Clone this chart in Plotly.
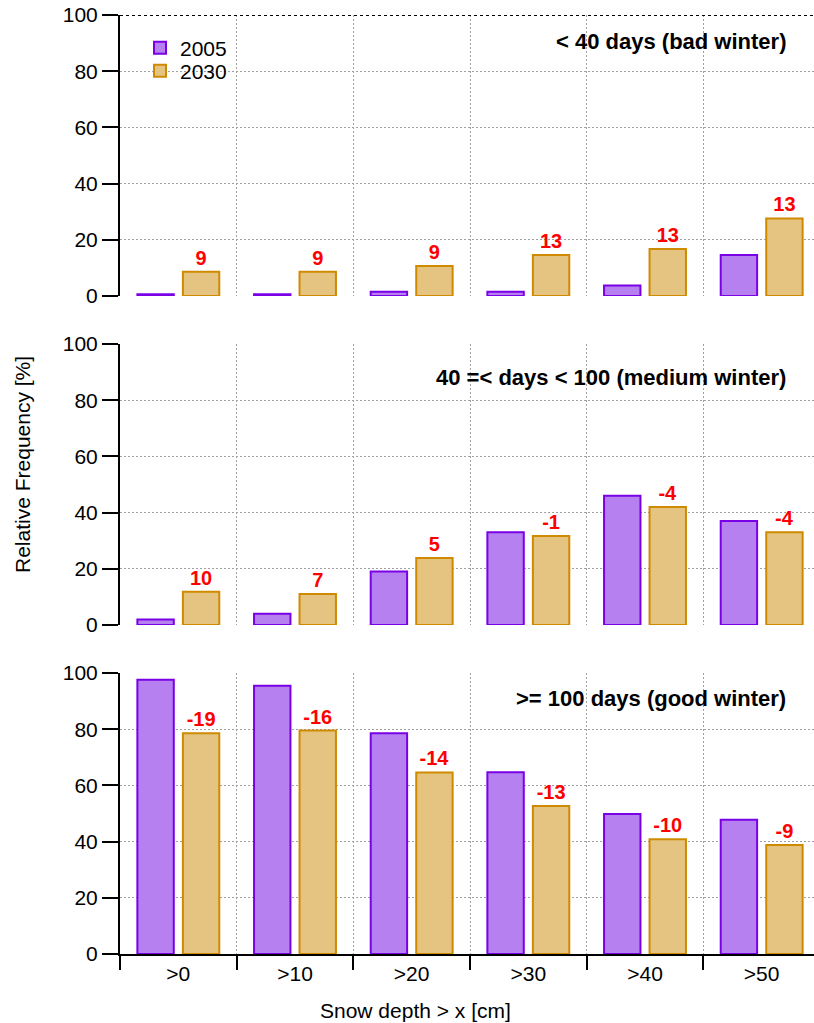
import plotly.graph_objects as go

# Snow depth thresholds and relative frequencies [%] per winter class
depth_labels = [">0", ">10", ">20", ">30", ">40", ">50"]

bad_2005 = [0.6, 0.6, 1.5, 1.5, 3.7, 14.6]
bad_2030 = [8.6, 8.6, 10.7, 14.6, 16.7, 27.6]
bad_diff = ["9", "9", "9", "13", "13", "13"]

medium_2005 = [2.0, 4.0, 19.0, 33.0, 46.0, 37.0]
medium_2030 = [11.8, 11.0, 23.8, 31.7, 42.0, 33.0]
medium_diff = ["10", "7", "5", "-1", "-4", "-4"]

good_2005 = [97.6, 95.5, 78.6, 64.7, 49.8, 47.8]
good_2030 = [78.6, 79.5, 64.6, 52.7, 40.8, 38.8]
good_diff = ["-19", "-16", "-14", "-13", "-10", "-9"]

panel_titles = ["< 40 days (bad winter)", "40 =< days < 100 (medium winter)", ">= 100 days (good winter)"]

PURPLE_FILL, PURPLE_LINE = "#b780f0", "#7a00e6"
ORANGE_FILL, ORANGE_LINE = "#e4c480", "#cf8a00"
FONT = "Liberation Sans, Arial, sans-serif"
GRID = "#a0a0a0"
DOTS = "2px,2px"

W, H = 814, 1023
L, T, B = 120, 15, 69
plot_h = H - T - B
panel_h, gap = 281, 48

fig = go.Figure()

panels = [
    (bad_2005, bad_2030, bad_diff, "3"),
    (medium_2005, medium_2030, medium_diff, "2"),
    (good_2005, good_2030, good_diff, ""),
]
for i, (v05, v30, diff, ax) in enumerate(panels):
    first = i == 0
    fig.add_bar(
        x=depth_labels, y=v05, name="2005", legend="legend", showlegend=first,
        marker={"color": PURPLE_FILL, "line": {"color": PURPLE_LINE, "width": 2}},
        xaxis="x" + ax, yaxis="y" + ax,
    )
    fig.add_bar(
        x=depth_labels, y=v30, name="2030", legend="legend2", showlegend=first,
        marker={"color": ORANGE_FILL, "line": {"color": ORANGE_LINE, "width": 2}},
        text=diff, textposition="outside", constraintext="none", cliponaxis=False,
        textfont={"color": "#ff0000", "size": 20, "family": FONT, "weight": "bold"},
        xaxis="x" + ax, yaxis="y" + ax,
    )

# vertical placement of the three panels (bottom -> top)
def dom(k):
    lo = k * (panel_h + gap) / plot_h
    return [lo, min(1.0, lo + panel_h / plot_h)]

xr = [-0.5, -0.5 + (W - L) / 700 * 6]
xcommon = dict(type="category", range=xr, tickson="boundaries", showgrid=True,
               gridcolor=GRID, griddash=DOTS, gridwidth=1, zeroline=False)
ycommon = dict(range=[0, 100], dtick=20, showgrid=True, gridcolor=GRID, griddash=DOTS,
               gridwidth=1, zeroline=False, showline=True, linecolor="black", linewidth=2,
               ticks="outside", ticklen=16, tickwidth=2, tickcolor="black",
               tickfont={"size": 21, "family": FONT, "color": "black"})

legend_style = dict(xanchor="left", yanchor="middle", bgcolor="rgba(0,0,0,0)",
                    font={"size": 21, "family": FONT, "color": "black"})

fig.update_layout(
    xaxis=dict(**xcommon, anchor="y", showline=True, linecolor="black", linewidth=2,
               ticks="outside", ticklen=14, tickwidth=2, tickcolor="black",
               tickfont={"size": 21, "family": FONT, "color": "black"}),
    xaxis2=dict(**xcommon, anchor="y2", matches="x", showticklabels=False, ticks=""),
    xaxis3=dict(**xcommon, anchor="y3", matches="x", showticklabels=False, ticks=""),
    yaxis=dict(**ycommon, domain=dom(0), anchor="x"),
    yaxis2=dict(**ycommon, domain=dom(1), anchor="x2"),
    yaxis3=dict(**ycommon, domain=dom(2), anchor="x3"),
    barmode="group", bargap=0.22, bargroupgap=0.2,
    width=W, height=H,
    margin={"l": L, "r": 0, "t": T, "b": B},
    plot_bgcolor="white", paper_bgcolor="white",
    font={"family": FONT, "size": 21, "color": "black"},
    legend=dict(**legend_style, x=(140 - L) / (W - L), y=1 - (48 - T) / plot_h),
    legend2=dict(**legend_style, x=(140 - L) / (W - L), y=1 - (71 - T) / plot_h),
)

# dark dotted top border of the upper panel
fig.add_shape(type="line", xref="x3 domain", yref="y3", x0=0, x1=1, y0=100, y1=100,
              line={"color": "black", "width": 2, "dash": "dot"})

title_y = [90.4, 87.9, 91.1]
for ax, txt, yv in zip(["3", "2", ""], panel_titles, title_y):
    fig.add_annotation(text=txt, xref="paper", yref="y" + ax, x=(788 - L) / (W - L), y=yv,
                       xanchor="right", yanchor="middle", showarrow=False,
                       font={"size": 22, "family": FONT, "weight": "bold"})

fig.add_annotation(text="Snow depth > x [cm]", xref="paper", yref="paper",
                   x=(415 - L) / (W - L), y=-(1010 - (H - B)) / plot_h,
                   xanchor="center", yanchor="middle", showarrow=False, font={"size": 21})
fig.add_annotation(text="Relative Frequency [%]", xref="paper", yref="paper",
                   x=(22 - L) / (W - L), y=1 - (465 - T) / plot_h, textangle=-90,
                   xanchor="center", yanchor="middle", showarrow=False, font={"size": 21})

# drop the default page margin so the figure sits at the window's corner
fig.write_html("out.html", config={"displayModeBar": False},
               post_script="document.body.style.margin='0';")
